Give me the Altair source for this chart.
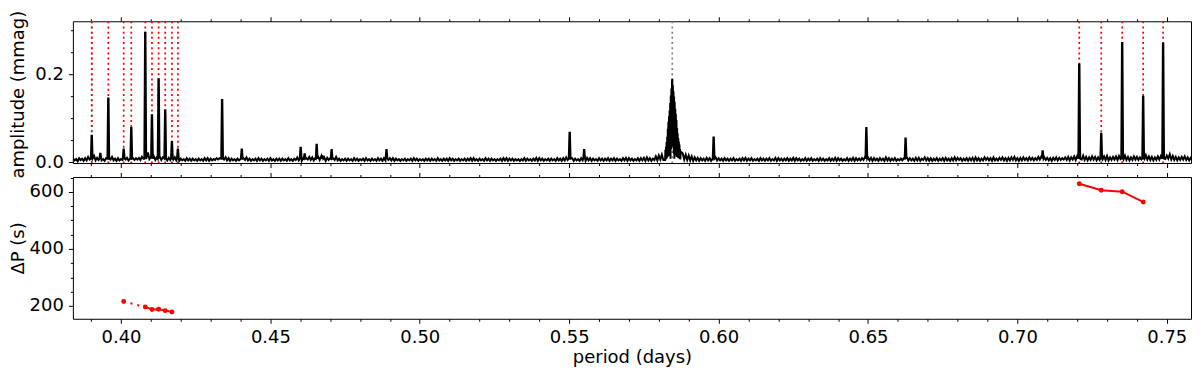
import altair as alt
import pandas as pd

FONT = "DejaVu Sans"

# ---------------- axes / domains ----------------
x_domain = [0.3839, 0.7581]
amp_domain = [-0.002, 0.3214]
dp_domain = [154.4, 652.6]

x_major = [0.40, 0.45, 0.50, 0.55, 0.60, 0.65, 0.70, 0.75]
x_minor = [0.39, 0.41, 0.42, 0.43, 0.44, 0.46, 0.47, 0.48, 0.49, 0.51, 0.52, 0.53,
           0.54, 0.56, 0.57, 0.58, 0.59, 0.61, 0.62, 0.63, 0.64, 0.66, 0.67, 0.68,
           0.69, 0.71, 0.72, 0.73, 0.74]
amp_major = [0.0, 0.2]
amp_minor = [0.05, 0.1, 0.15, 0.25, 0.3]
dp_major = [200, 400, 600]
dp_minor = [250, 300, 350, 450, 500, 550, 650]

# ---------------- periodogram ----------------
# noise floor, one character per sample, value in 0.001 mmag (base-36 digit)
noise_start = 0.3835
noise_step = 0.0005
noise_chunks = [
    "38472958394c6f7e4a58", "47394b6c4839475b6a48", "49596a5c8k9m7c6d5b6c",
    "5b6c4a596b4a38473948", "38473847394938475969", "7d6b4938473847395b48",
    "37483948374839473848", "38473947385b4939596c", "5b496c5d4b3a59495c48",
    "37483847394837483947", "38473948394a59493847", "37483748394837473848",
    "38473947384839483748", "37483849394738473948", "38473748394938483747",
    "37493847384a39483748", "38473948394b5c493847", "39483a49384739483849",
    "38493847394a39483749", "394a3b49385d4f6h5k7m", "7f6e8g5d7k6h5f4d3b4a",
    "39483a49385b49483948", "38493748394a38493748", "39483849374a39483849",
    "384a3948374938493748", "39483749384a39483749", "384a3948495c6b4a3948",
    "39483b4938493748495b", "49483a4a385b49393849", "38493a48394b4a593849",
    "394a3b49384b5a493b48", "4a5b493a4b5c493a4b59", "4b5a495c6d4b5a493a5b",
    "4a596b5c4b6d5e7g6f5c", "4b5d6c4b5a6d5e4b5c6d", "5e7h6f5c4b5d6c5b6e7g",
    "6d5c4b5d6e5c7f8i6e5c", "4b5c6d5b4a596b5e4c5b",
]

# narrow peaks: period (d), amplitude (mmag)
peak_p = [0.39021, 0.39308, 0.39576, 0.40090, 0.40344, 0.40812, 0.41036, 0.41259,
          0.41480, 0.41704, 0.41904, 0.43384, 0.44042, 0.46013, 0.46147, 0.46548,
          0.46738, 0.47049, 0.48886, 0.55016, 0.55501, 0.59834, 0.64945, 0.66258,
          0.70845, 0.72070, 0.72806, 0.73507, 0.74209, 0.74877]
peak_a = [0.060, 0.019, 0.145, 0.029, 0.078, 0.295, 0.107, 0.189,
          0.118, 0.046, 0.029, 0.142, 0.029, 0.033, 0.018, 0.040,
          0.014, 0.028, 0.028, 0.067, 0.028, 0.056, 0.078, 0.054,
          0.025, 0.223, 0.065, 0.272, 0.149, 0.271]
peak_base = 0.008

# broad peak near 0.585 d
main_p = [0.5821, 0.5822, 0.5823, 0.5824, 0.5825, 0.5826, 0.5827, 0.5828, 0.5829,
          0.5830, 0.5831, 0.5832, 0.5833, 0.5834, 0.5835, 0.5836, 0.5837, 0.5838,
          0.5839, 0.5840, 0.5841, 0.5842, 0.5843, 0.5844, 0.5845, 0.5846, 0.5847,
          0.5848, 0.5849, 0.5850, 0.5851, 0.5852, 0.5853, 0.5854, 0.5855, 0.5856,
          0.5857, 0.5858, 0.5859, 0.5860, 0.5861, 0.5862, 0.5863, 0.5864, 0.5865,
          0.5866, 0.5867, 0.5868, 0.5869, 0.5870, 0.5871, 0.5872, 0.5873]
main_a = [0.005, 0.028, 0.006, 0.035, 0.008, 0.046, 0.010, 0.058, 0.012, 0.076,
          0.015, 0.092, 0.020, 0.105, 0.014, 0.118, 0.025, 0.135, 0.008, 0.152,
          0.030, 0.168, 0.040, 0.182, 0.190, 0.060, 0.176, 0.035, 0.162, 0.020,
          0.150, 0.008, 0.138, 0.022, 0.122, 0.018, 0.110, 0.015, 0.096, 0.012,
          0.078, 0.014, 0.066, 0.010, 0.055, 0.012, 0.047, 0.009, 0.040, 0.007,
          0.030, 0.006, 0.024]

# marked modes
red_p = [0.39021, 0.39576, 0.40090, 0.40344, 0.40812, 0.41036, 0.41259, 0.41480,
         0.41704, 0.41904, 0.72070, 0.72806, 0.73507, 0.74209, 0.74877]
grey_p = [0.39021, 0.5845]

# period spacings (s)
dp_left_p = [0.40090, 0.40812, 0.41036, 0.41259, 0.41480, 0.41704]
dp_left_v = [215, 196, 187, 188, 183, 178]
dp_right_p = [0.72070, 0.72806, 0.73507, 0.74209]
dp_right_v = [629, 606, 601, 565]

# ---------------- build tables ----------------
noise_str = "".join(noise_chunks)
rows = []
for i, ch in enumerate(noise_str):
    p = noise_start + i * noise_step
    if any(abs(p - pk) < 0.00035 for pk in peak_p):
        continue
    if main_p[0] - 0.0003 <= p <= main_p[-1] + 0.0003:
        continue
    rows.append((p, int(ch, 36) / 1000.0))
for pk, a in zip(peak_p, peak_a):
    rows += [(pk - 0.0003, peak_base), (pk - 0.00007, a), (pk + 0.00007, a), (pk + 0.0003, peak_base)]
rows += list(zip(main_p, main_a))
rows.sort()
spec_df = pd.DataFrame(rows, columns=["period", "amp"])
peaks_df = pd.DataFrame({"period": peak_p, "amp": peak_a})
red_df = pd.DataFrame({"period": red_p})
grey_df = pd.DataFrame({"period": grey_p})

dp_pts = pd.DataFrame({"period": dp_left_p + dp_right_p, "dp": dp_left_v + dp_right_v})
solid_df = pd.DataFrame({
    "period": dp_left_p[1:] + dp_right_p,
    "dp": dp_left_v[1:] + dp_right_v,
    "grp": ["L"] * (len(dp_left_p) - 1) + ["R"] * len(dp_right_p),
})
dotted_df = pd.DataFrame({"period": dp_left_p[:2], "dp": dp_left_v[:2]})

W, H = 1120, 142
MAJ, MIN = 4.5, 2.5


def ax(orient, values, size, labels=False, **kw):
    d = dict(orient=orient, values=values, tickSize=size, labels=labels, domain=False,
             grid=False, ticks=True, tickColor="black", tickWidth=1, title=None)
    d.update(kw)
    return alt.Axis(**d)


def panel(base_layers, axis_df, yfield, ydomain, ymaj, ymin, yfmt, ytitle, xlabels, title_y):
    xs = alt.Scale(domain=x_domain, nice=False, zero=False)
    ys = alt.Scale(domain=ydomain, nice=False, zero=False)
    xkw = dict(labelPadding=5, format=".2f")
    if xlabels:
        xkw.update(title="period (days)", titlePadding=2)
    main_axes = alt.Chart(axis_df).mark_point(opacity=0).encode(
        x=alt.X("period:Q", scale=xs, axis=ax("bottom", x_major, MAJ, labels=xlabels, **xkw)),
        y=alt.Y(f"{yfield}:Q", scale=ys,
                axis=ax("left", ymaj, MAJ, labels=True, format=yfmt, labelPadding=5,
                        title=ytitle, titleX=-54, titleY=title_y, titleAngle=270,
                        titleBaseline="middle", titleAlign="center")),
    )
    minor_axes = alt.Chart(axis_df).mark_point(opacity=0).encode(
        x=alt.X("period:Q", scale=xs, axis=ax("bottom", x_minor, MIN)),
        y=alt.Y(f"{yfield}:Q", scale=ys, axis=ax("left", ymin, MIN)),
    )
    mirror_major = alt.Chart(axis_df).mark_point(opacity=0).encode(
        x=alt.X("period:Q", scale=xs, axis=ax("top", x_major, MAJ)),
        y=alt.Y(f"{yfield}:Q", scale=ys, axis=ax("right", ymaj, MAJ)),
    )
    mirror_minor = alt.Chart(axis_df).mark_point(opacity=0).encode(
        x=alt.X("period:Q", scale=xs, axis=ax("top", x_minor, MIN)),
        y=alt.Y(f"{yfield}:Q", scale=ys, axis=ax("right", ymin, MIN)),
    )
    layers = [l(xs, ys) for l in base_layers]
    return alt.layer(main_axes, minor_axes, mirror_major, mirror_minor, *layers).resolve_axis(
        x="independent", y="independent").properties(width=W, height=H)


top_layers = [
    lambda xs, ys: alt.Chart(grey_df).mark_rule(color="#808080", strokeWidth=1.7, strokeDash=[2, 3.2]).encode(
        x=alt.X("period:Q", scale=xs, axis=None)),
    lambda xs, ys: alt.Chart(red_df).mark_rule(color="#ff0000", strokeWidth=1.7, strokeDash=[2, 3.2]).encode(
        x=alt.X("period:Q", scale=xs, axis=None)),
    lambda xs, ys: alt.Chart(spec_df).mark_line(color="black", strokeWidth=2, clip=True).encode(
        x=alt.X("period:Q", scale=xs, axis=None),
        y=alt.Y("amp:Q", scale=ys, axis=None)),
]

bottom_layers = [
    lambda xs, ys: alt.Chart(dotted_df).mark_line(color="#ff0000", strokeWidth=2, strokeDash=[2, 5]).encode(
        x=alt.X("period:Q", scale=xs, axis=None),
        y=alt.Y("dp:Q", scale=ys, axis=None)),
    lambda xs, ys: alt.Chart(solid_df).mark_line(color="#ff0000", strokeWidth=2).encode(
        x=alt.X("period:Q", scale=xs, axis=None),
        y=alt.Y("dp:Q", scale=ys, axis=None),
        detail="grp:N"),
    lambda xs, ys: alt.Chart(dp_pts).mark_circle(color="#ff0000", size=24, opacity=1).encode(
        x=alt.X("period:Q", scale=xs, axis=None),
        y=alt.Y("dp:Q", scale=ys, axis=None)),
]

top = panel(top_layers, peaks_df, "amp", amp_domain, amp_major, amp_minor, ".1f",
            "amplitude (mmag)", False, 73)
bottom = panel(bottom_layers, dp_pts, "dp", dp_domain, dp_major, dp_minor, "d",
               "ΔP (s)", True, H / 2)

chart = alt.vconcat(top, bottom, spacing=14, bounds="flush").properties(
    padding={"left": 1, "top": 1, "right": -5, "bottom": 0},
    background="white",
).configure_view(stroke="black", strokeWidth=1).configure_axis(
    labelFont=FONT, titleFont=FONT, labelFontSize=18, titleFontSize=18,
    labelColor="black", titleColor="black", titleFontWeight="normal",
)

chart.save("out.html", embed_options={"renderer": "svg", "actions": False})
